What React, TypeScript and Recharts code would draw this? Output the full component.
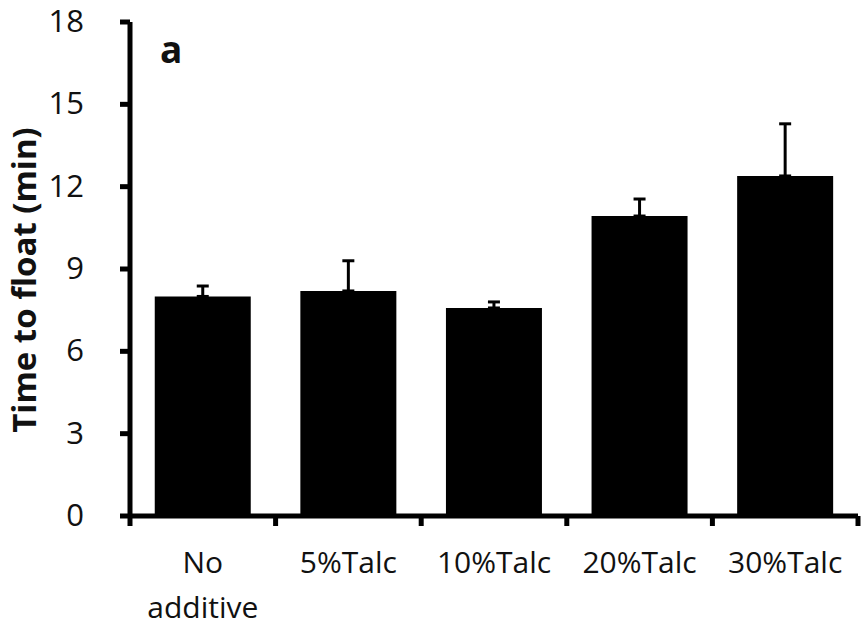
import { BarChart, Bar, XAxis, YAxis, ErrorBar } from 'recharts';

const categories = ['No additive', '5%Talc', '10%Talc', '20%Talc', '30%Talc'];
const meanTimes = [8.0, 8.2, 7.58, 10.93, 12.39];
const stdErrors = [0.38, 1.1, 0.22, 0.62, 1.9];
const yTicks = [0, 3, 6, 9, 12, 15, 18];

const data = categories.map((name, i) => ({
  name,
  time: meanTimes[i],
  err: [0, stdErrors[i]],
}));

const FONT = '"Open Sans", sans-serif';

// category labels plus the small tick marks on the category boundaries
function CategoryTick(props: any) {
  const { x, y, payload, index } = props;
  const half = payload.offset ?? 0;
  const lines = String(payload.value).split(' ');
  return (
    <g>
      {index === 0 && <line x1={x - half} x2={x - half} y1={y} y2={y + 10} stroke="#000" strokeWidth={5} />}
      <line x1={x + half} x2={x + half} y1={y} y2={y + 10} stroke="#000" strokeWidth={5} />
      <text x={x} y={y + 57} textAnchor="middle" fontFamily={FONT} fontSize={30} fill="#111">
        {lines.map((l, i) => (
          <tspan key={i} x={x} dy={i === 0 ? 0 : 45}>
            {l}
          </tspan>
        ))}
      </text>
    </g>
  );
}

function ValueTick(props: any) {
  const { x, y, payload } = props;
  return (
    <text x={x - 34} y={y + 10} textAnchor="end" fontFamily={FONT} fontSize={31} fill="#111">
      {payload.value}
    </text>
  );
}

export default function App() {
  return (
    <div style={{ position: 'absolute', left: 0, top: 0, background: '#fff' }}>
      <BarChart
        width={862}
        height={628}
        data={data}
        margin={{ top: 22, right: 4, bottom: 0, left: 0 }}
        barCategoryGap="17%"
      >
        <XAxis
          dataKey="name"
          type="category"
          axisLine={{ stroke: '#000', strokeWidth: 5 }}
          tickLine={false}
          tickSize={0}
          tickMargin={0}
          height={112}
          interval={0}
          tick={<CategoryTick />}
        />
        <YAxis
          domain={[0, 18]}
          ticks={yTicks}
          width={130}
          axisLine={{ stroke: '#000', strokeWidth: 5 }}
          tickLine={{ stroke: '#000', strokeWidth: 5 }}
          tickSize={10}
          tick={<ValueTick />}
          label={({ viewBox }: any) => (
            <text
              x={viewBox.x + 36}
              y={viewBox.y + viewBox.height / 2 + 11}
              transform={`rotate(-90 ${viewBox.x + 36} ${viewBox.y + viewBox.height / 2 + 11})`}
              textAnchor="middle"
              fontFamily={FONT}
              fontWeight="bold"
              fontSize={33}
              fill="#111"
            >
              Time to float (min)
            </text>
          )}
        />
        <Bar dataKey="time" fill="#000" isAnimationActive={false}>
          <ErrorBar dataKey="err" width={6} strokeWidth={3} stroke="#000" direction="y" />
        </Bar>
        <text x={160} y={63} fontFamily={FONT} fontWeight="bold" fontSize={37} fill="#111">
          a
        </text>
      </BarChart>
    </div>
  );
}
